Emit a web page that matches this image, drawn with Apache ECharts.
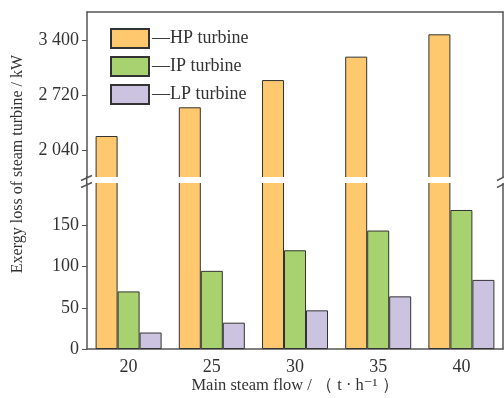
<!DOCTYPE html>
<html><head><meta charset="utf-8">
<script src="https://cdn.jsdelivr.net/npm/echarts@6/dist/echarts.min.js"></script>
<style>html,body{margin:0;padding:0;background:#fff}#c{width:504px;height:398px}</style>
</head><body><div id="c"></div>
<script>
const categories = ['20', '25', '30', '35', '40'];
const hpValues = [2213, 2568, 2905, 3194, 3470];
const ipValues = [70, 95, 120, 144, 169];
const lpValues = [20, 32, 47, 64, 84];
const seriesNames = ['—HP turbine', '—IP turbine', '—LP turbine'];
const upperTicks = [2040, 2720, 3400];
const lowerTicks = [0, 50, 100, 150];
const xTitle = 'Main steam flow / （ t · h⁻¹ ）';
const yTitle = 'Exergy loss of steam turbine / kW';

const FONT = '"Liberation Serif", "DejaVu Serif", serif';
const TXT = '#333';
const AX = '#555';
const colors = ['#FEC86E', '#A8D26F', '#CCC3E0'];
const border = { borderColor: '#333', borderWidth: 1 };

const chart = echarts.init(document.getElementById('c'));
const lineStyle = { color: AX, width: 1.5 };
const noAx = { show: false };
function sideAxis(g) {
  return { type: 'value', gridIndex: g, position: 'right', axisLine: { show: true, onZero: false, lineStyle },
           axisTick: noAx, axisLabel: noAx, splitLine: noAx, min: 0, max: 1 };
}
const option = {
  animation: false,
  textStyle: { fontFamily: FONT },
  grid: [
    { left: 87, right: 1, top: 12, height: 166 },
    { left: 87, right: 1, top: 182, height: 167 }
  ],
  legend: {
    data: seriesNames, orient: 'vertical', left: 105, top: 23,
    itemWidth: 38, itemHeight: 19, itemGap: 7, icon: 'rect',
    textStyle: { fontFamily: FONT, fontSize: 18, color: TXT, padding: [0, 0, 0, -2] }
  },
  xAxis: [
    { type: 'category', gridIndex: 0, data: categories, position: 'top',
      axisLine: { show: true, onZero: false, lineStyle }, axisTick: noAx, axisLabel: noAx },
    { type: 'category', gridIndex: 1, data: categories, position: 'bottom',
      axisLine: { show: true, onZero: false, lineStyle },
      axisTick: { show: true, inside: true, alignWithLabel: true, length: 5, lineStyle: { color: AX } },
      axisLabel: { fontFamily: FONT, fontSize: 18, color: TXT, margin: 9 } }
  ],
  yAxis: [
    { type: 'value', gridIndex: 0, min: 1694, max: 3746,
      axisLine: { show: true, onZero: false, lineStyle },
      axisTick: { show: true, length: 5, customValues: upperTicks, lineStyle: { color: AX } },
      axisLabel: { customValues: upperTicks, fontFamily: FONT, fontSize: 18, color: TXT, margin: 8,
                   formatter: v => String(v).replace(/(\d)(\d{3})$/, '$1 $2') },
      splitLine: noAx },
    { type: 'value', gridIndex: 1, min: 0, max: 203,
      axisLine: { show: true, onZero: false, lineStyle },
      axisTick: { show: true, length: 5, customValues: lowerTicks, lineStyle: { color: AX } },
      axisLabel: { customValues: lowerTicks, fontFamily: FONT, fontSize: 18, color: TXT, margin: 8 },
      splitLine: noAx },
    sideAxis(0), sideAxis(1)
  ],
  series: [
    { name: seriesNames[0], type: 'bar', xAxisIndex: 0, yAxisIndex: 0, data: hpValues, barWidth: 22, barGap: '0%',
      itemStyle: Object.assign({ color: colors[0] }, border) },
    { name: 'ip_up', type: 'bar', xAxisIndex: 0, yAxisIndex: 0, data: hpValues.map(() => null), barWidth: 22, barGap: '0%' },
    { name: 'lp_up', type: 'bar', xAxisIndex: 0, yAxisIndex: 0, data: hpValues.map(() => null), barWidth: 22, barGap: '0%' },
    { name: seriesNames[0], type: 'bar', xAxisIndex: 1, yAxisIndex: 1, data: hpValues, barWidth: 22, barGap: '0%',
      itemStyle: Object.assign({ color: colors[0] }, border) },
    { name: seriesNames[1], type: 'bar', xAxisIndex: 1, yAxisIndex: 1, data: ipValues, barWidth: 22, barGap: '0%',
      itemStyle: Object.assign({ color: colors[1] }, border) },
    { name: seriesNames[2], type: 'bar', xAxisIndex: 1, yAxisIndex: 1, data: lpValues, barWidth: 22, barGap: '0%',
      itemStyle: Object.assign({ color: colors[2] }, border) }
  ],
  graphic: [
    { type: 'rect', shape: { x: 80, y: 177, width: 424, height: 6 }, style: { fill: '#fff' }, z: 100 },
    { type: 'line', shape: { x1: 86.7, y1: 176, x2: 86.7, y2: 184 }, style: { stroke: AX, lineWidth: 1.5 }, z: 101 },
    { type: 'line', shape: { x1: 81, y1: 180.5, x2: 92, y2: 175.5 }, style: { stroke: AX, lineWidth: 1.5 }, z: 102 },
    { type: 'line', shape: { x1: 81, y1: 187.5, x2: 92, y2: 182.5 }, style: { stroke: AX, lineWidth: 1.5 }, z: 102 },
    { type: 'line', shape: { x1: 497, y1: 180.5, x2: 504, y2: 177 }, style: { stroke: AX, lineWidth: 1.5 }, z: 102 },
    { type: 'line', shape: { x1: 497, y1: 187.5, x2: 504, y2: 184 }, style: { stroke: AX, lineWidth: 1.5 }, z: 102 },
    { type: 'text', x: 18, y: 164, rotation: Math.PI / 2,
      style: { text: yTitle, fontFamily: FONT, fontSize: 16, fill: TXT, align: 'center', verticalAlign: 'middle' } },
    { type: 'text', x: 295, y: 386,
      style: { text: xTitle, fontFamily: FONT, fontSize: 16.5, fill: TXT, align: 'center', verticalAlign: 'middle' } }
  ]
};
chart.setOption(option);
</script></body></html>
